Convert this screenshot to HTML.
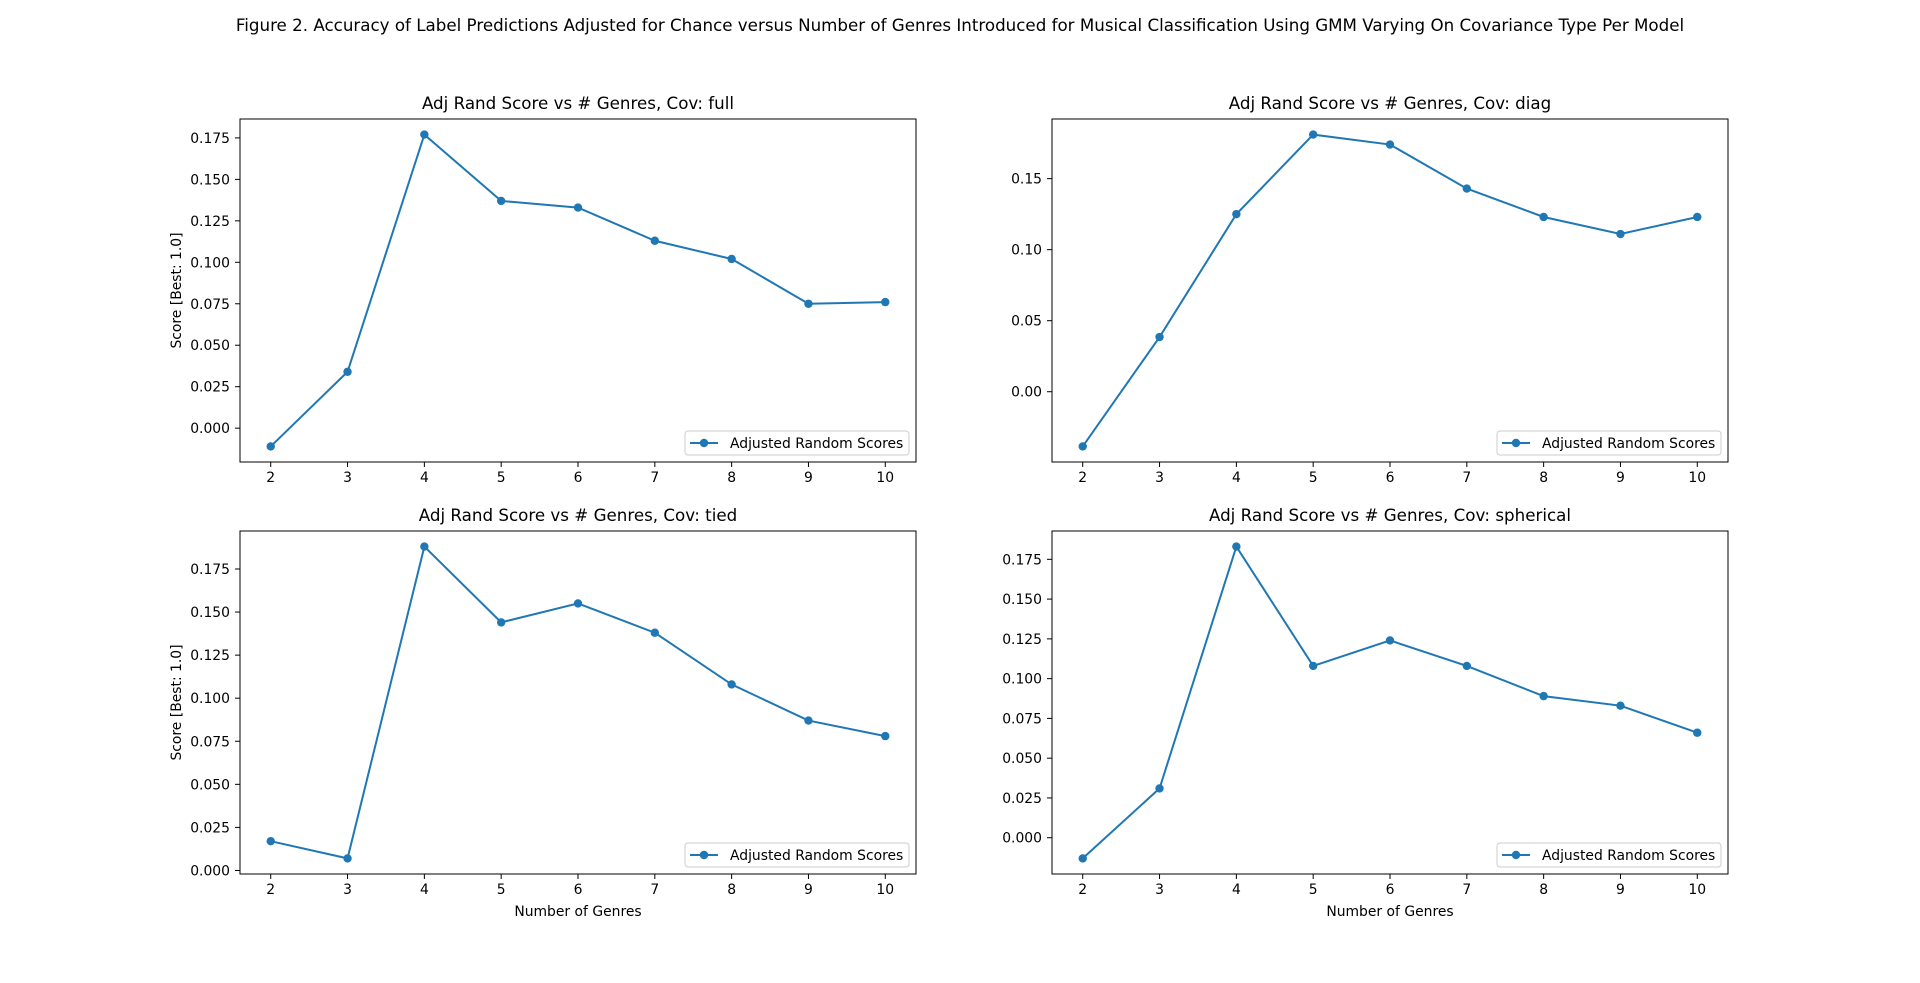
<!DOCTYPE html>
<html><head><meta charset="utf-8"><style>
html,body{margin:0;padding:0;background:#fff;}
svg{display:block;font-family:"DejaVu Sans","Liberation Sans",sans-serif;}
</style></head><body>
<svg id="fig" width="1920" height="983" viewBox="0 0 1920 983" xmlns="http://www.w3.org/2000/svg">
<rect width="1920" height="983" fill="#fff"/>
<text x="960" y="31" text-anchor="middle" font-size="16.7" fill="#000">Figure 2. Accuracy of Label Predictions Adjusted for Chance versus Number of Genres Introduced for Musical Classification Using GMM Varying On Covariance Type Per Model</text>
</svg>
<script>
const genres = [2,3,4,5,6,7,8,9,10];
const fullScores = [-0.011,0.034,0.177,0.137,0.133,0.113,0.102,0.075,0.076];
const diagScores = [-0.0385,0.0385,0.125,0.181,0.174,0.143,0.123,0.111,0.123];
const tiedScores = [0.017,0.007,0.188,0.144,0.155,0.138,0.108,0.087,0.078];
const sphericalScores = [-0.013,0.031,0.183,0.108,0.124,0.108,0.089,0.083,0.066];
const ticksFull = ["0.000","0.025","0.050","0.075","0.100","0.125","0.150","0.175"];
const ticksDiag = ["0.00","0.05","0.10","0.15"];
const ticksTied = ["0.000","0.025","0.050","0.075","0.100","0.125","0.150","0.175"];
const ticksSph = ["0.000","0.025","0.050","0.075","0.100","0.125","0.150","0.175"];
const covTypes = ["full","diag","tied","spherical"];

const NS="http://www.w3.org/2000/svg";
const svg=document.getElementById('fig');
function mk(tag,attrs,parent){const e=document.createElementNS(NS,tag);for(const k in attrs)e.setAttribute(k,attrs[k]);(parent||svg).appendChild(e);return e;}

const panels=[
 {vals:fullScores,ticks:ticksFull,x:240,y:119,ylab:true,xlab:false},
 {vals:diagScores,ticks:ticksDiag,x:1052,y:119,ylab:false,xlab:false},
 {vals:tiedScores,ticks:ticksTied,x:240,y:531,ylab:true,xlab:true},
 {vals:sphericalScores,ticks:ticksSph,x:1052,y:531,ylab:false,xlab:true}
];
const W=676,H=343,C="#1f77b4";
panels.forEach((p,i)=>{
  const g=mk('g',{});
  
  
  const xmin=Math.min(...genres),xmax=Math.max(...genres),xm=(xmax-xmin)*0.05;
  const ymn=Math.min(...p.vals),ymx=Math.max(...p.vals),ym=(ymx-ymn)*0.05;
  const sx=v=>p.x+(v-(xmin-xm))/((xmax+xm)-(xmin-xm))*W;
  const sy=v=>p.y+H-(v-(ymn-ym))/((ymx+ym)-(ymn-ym))*H;
  const t=mk('text',{x:p.x+W/2,y:p.y-10,'text-anchor':'middle','font-size':'16.7',fill:'#000'},g);
  t.textContent='Adj Rand Score vs # Genres, Cov: '+covTypes[i];
  
  
  genres.forEach(v=>{
    const X=sx(v);
    const tk=mk('line',{x1:X,x2:X,y1:p.y+H,y2:p.y+H+5,stroke:'#000','stroke-width':1},g);
    
    
    const tl=mk('text',{x:X,y:p.y+H+20,'text-anchor':'middle','font-size':'13.9'},g);
    tl.textContent=v;
    
    
  });
  p.ticks.forEach(s=>{
    const Y=sy(parseFloat(s));
    const tk=mk('line',{x1:p.x-5,x2:p.x,y1:Y,y2:Y,stroke:'#000','stroke-width':1},g);
    
    
    const tl=mk('text',{x:p.x-10,y:Y+5,'text-anchor':'end','font-size':'13.9'},g);
    tl.textContent=s;
    
    
  });
  const pts=genres.map((v,k)=>sx(v)+','+sy(p.vals[k])).join(' ');
  const pl=mk('polyline',{points:pts,fill:'none',stroke:C,'stroke-width':2},g);
  
  
  genres.forEach((v,k)=>{
    const c=mk('circle',{cx:sx(v),cy:sy(p.vals[k]),r:4.2,fill:C},g);
    
    
  });
  const fr=mk('rect',{x:p.x,y:p.y,width:W,height:H,fill:'none',stroke:'#000','stroke-width':1},g);
  
  
  // legend
  const lg=mk('g',{},g);
  
  
  const lx=p.x+W-7-224,ly=p.y+H-7-24;
  mk('rect',{x:lx,y:ly,width:224,height:24,rx:3,fill:'#fff','fill-opacity':0.8,stroke:'#ccc','stroke-width':1},lg);
  mk('line',{x1:lx+5,x2:lx+33,y1:ly+12,y2:ly+12,stroke:C,'stroke-width':2},lg);
  mk('circle',{cx:lx+19,cy:ly+12,r:4.2,fill:C},lg);
  const lt=mk('text',{x:lx+45,y:ly+17,'font-size':'13.9'},lg);
  lt.textContent='Adjusted Random Scores';
  
  
  if(p.ylab){
    const yl=mk('text',{x:0,y:0,transform:'translate(181,'+(p.y+H/2)+') rotate(-90)','text-anchor':'middle','font-size':'13.9'},g);
    yl.textContent='Score [Best: 1.0]';
    
    
  }
  if(p.xlab){
    const xl=mk('text',{x:p.x+W/2,y:p.y+H+42,'text-anchor':'middle','font-size':'13.9'},g);
    xl.textContent='Number of Genres';
    
    
  }
});
</script>
</body></html>
